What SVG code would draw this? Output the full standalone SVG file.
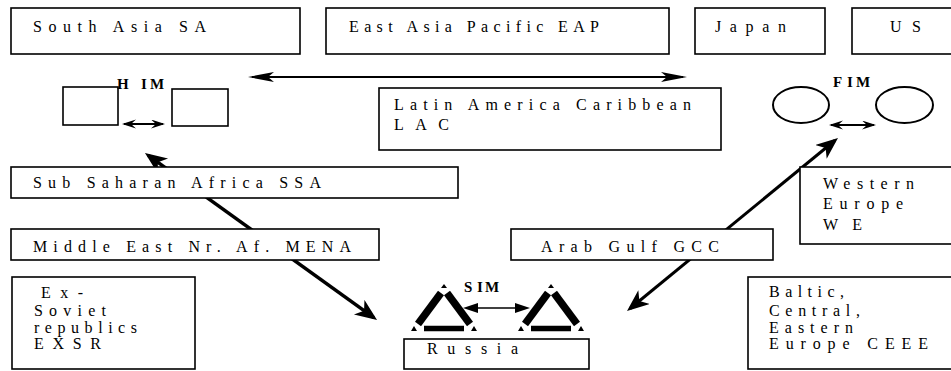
<svg xmlns="http://www.w3.org/2000/svg" width="951" height="371" viewBox="0 0 951 371">
<defs>
<style>
.box{fill:#fff;stroke:#000;stroke-width:1.6}
.t{font-family:"Liberation Serif","Times New Roman",serif;font-size:16px;fill:#000}
.b{font-family:"Liberation Serif","Times New Roman",serif;font-size:15px;font-weight:bold;fill:#000}
.ln{fill:none;stroke:#000}
.leg{stroke:#000;stroke-width:7.5;stroke-linecap:butt}
.base{stroke:#000;stroke-width:5.5;stroke-linecap:butt}
</style>
<marker id="mBig" markerUnits="userSpaceOnUse" markerWidth="24" markerHeight="20" refX="18" refY="9" orient="auto-start-reverse"><path d="M0,0 L22,9 L0,18 L6,9 Z" fill="#000"/></marker>
<marker id="mLong" markerUnits="userSpaceOnUse" markerWidth="28" markerHeight="12" refX="22" refY="5" orient="auto-start-reverse"><path d="M0,0 L26,5 L0,10 L6,5 Z" fill="#000"/></marker>
<marker id="mOpen" markerUnits="userSpaceOnUse" markerWidth="16" markerHeight="12" refX="12" refY="4.5" orient="auto-start-reverse"><path d="M0,0 L14,4.5 L0,9 L5,4.5 Z" fill="#000"/></marker>
<marker id="mTri" markerUnits="userSpaceOnUse" markerWidth="18" markerHeight="12" refX="12" refY="5" orient="auto-start-reverse"><path d="M0,0 L15,5 L0,10 Z" fill="#000"/></marker>
<g id="triShape">
<polygon points="0,-3 -3,1 3,1" fill="#000"/>
<line class="leg" x1="-3" y1="6" x2="-26" y2="37"/>
<line class="leg" x1="3" y1="6" x2="26" y2="37"/>
<line class="base" x1="-20" y1="41.5" x2="20" y2="41.5"/>
<polygon points="-33,44 -30,39 -27,44" fill="#000"/>
<polygon points="33,44 30,39 27,44" fill="#000"/>
</g>
</defs>
<rect width="951" height="371" fill="#fff"/>

<g id="connectors">
<line class="ln" x1="148.2" y1="155.3" x2="373.8" y2="317.7" stroke-width="3.5" marker-start="url(#mBig)" marker-end="url(#mBig)"/>
<line class="ln" x1="834.9" y1="140.5" x2="630.1" y2="308.5" stroke-width="3" marker-start="url(#mBig)" marker-end="url(#mBig)"/>
<line class="ln" x1="252" y1="77" x2="683" y2="77" stroke-width="2" marker-start="url(#mLong)" marker-end="url(#mLong)"/>
<line class="ln" x1="124" y1="124" x2="163" y2="124" stroke-width="2" marker-start="url(#mOpen)" marker-end="url(#mOpen)"/>
<line class="ln" x1="831" y1="125" x2="874" y2="125" stroke-width="2" marker-start="url(#mOpen)" marker-end="url(#mOpen)"/>
<line class="ln" x1="466" y1="308" x2="527" y2="308" stroke-width="1.5" marker-start="url(#mTri)" marker-end="url(#mTri)"/>
</g>

<g id="SA"><rect class="box" x="11" y="8" width="289" height="46"/><text class="t" x="33" y="32" textLength="173" lengthAdjust="spacing">South Asia SA</text></g>
<g id="EAP"><rect class="box" x="326" y="8" width="343" height="46"/><text class="t" x="349" y="32" textLength="250" lengthAdjust="spacing">East Asia Pacific EAP</text></g>
<g id="Japan"><rect class="box" x="695" y="8" width="130" height="46"/><text class="t" x="715" y="32" textLength="71" lengthAdjust="spacing">Japan</text></g>
<g id="US"><rect class="box" x="852" y="8" width="110" height="46"/><text class="t" x="890" y="32" textLength="31" lengthAdjust="spacing">US</text></g>

<g id="HIM">
<rect class="box" x="63" y="87" width="55" height="38" stroke-width="2"/>
<rect class="box" x="172" y="89" width="56" height="37" stroke-width="2"/>
<text class="b" x="117 141 150" y="89">HIM</text>
</g>

<g id="LAC"><rect class="box" x="379" y="88" width="342" height="62"/><text class="t" x="394" y="110" textLength="297" lengthAdjust="spacing">Latin America Caribbean</text><text class="t" x="394" y="130" textLength="55" lengthAdjust="spacing">LAC</text></g>

<g id="FIM">
<ellipse cx="801" cy="105" rx="28" ry="18" fill="#fff" stroke="#000" stroke-width="2"/>
<ellipse cx="904.5" cy="105" rx="28.5" ry="18" fill="#fff" stroke="#000" stroke-width="2"/>
<text class="b" x="833 847 856" y="87">FIM</text>
</g>

<g id="SSA"><rect class="box" x="11" y="167" width="447" height="31"/><text class="t" x="33" y="188" textLength="288" lengthAdjust="spacing">Sub Saharan Africa SSA</text></g>
<g id="WE"><rect class="box" x="800" y="167" width="160" height="77"/><text class="t" x="823" y="189" textLength="91" lengthAdjust="spacing">Western</text><text class="t" x="823" y="209" textLength="80" lengthAdjust="spacing">Europe</text><text class="t" x="823" y="230" textLength="39" lengthAdjust="spacing">WE</text></g>
<g id="MENA"><rect class="box" x="11" y="229" width="368" height="31"/><text class="t" x="33" y="252" textLength="318" lengthAdjust="spacing">Middle East Nr. Af. MENA</text></g>
<g id="GCC"><rect class="box" x="511" y="229" width="262" height="31"/><text class="t" x="541" y="252" textLength="178" lengthAdjust="spacing">Arab Gulf GCC</text></g>

<g id="EXSR"><rect class="box" x="12" y="277" width="183" height="92"/>
<text class="t" x="41" y="298" textLength="42" lengthAdjust="spacing">Ex-</text>
<text class="t" x="34" y="316" textLength="72" lengthAdjust="spacing">Soviet</text>
<text class="t" x="34" y="333" textLength="103" lengthAdjust="spacing">republics</text>
<text class="t" x="34" y="349" textLength="67" lengthAdjust="spacing">EXSR</text></g>

<g id="CEEE"><rect class="box" x="748" y="277" width="212" height="92"/>
<text class="t" x="769" y="297" textLength="75" lengthAdjust="spacing">Baltic,</text>
<text class="t" x="769" y="316" textLength="91" lengthAdjust="spacing">Central,</text>
<text class="t" x="769" y="333" textLength="84" lengthAdjust="spacing">Eastern</text>
<text class="t" x="769" y="349" textLength="159" lengthAdjust="spacing">Europe CEEE</text></g>

<g id="SIM">
<use href="#triShape" x="444" y="287"/>
<use href="#triShape" x="551" y="287"/>
<text class="b" x="464 477 485" y="292">SIM</text>
</g>

<g id="Russia"><rect class="box" x="404" y="339" width="185" height="30"/><text class="t" x="427" y="354" textLength="91" lengthAdjust="spacing">Russia</text></g>
</svg>
